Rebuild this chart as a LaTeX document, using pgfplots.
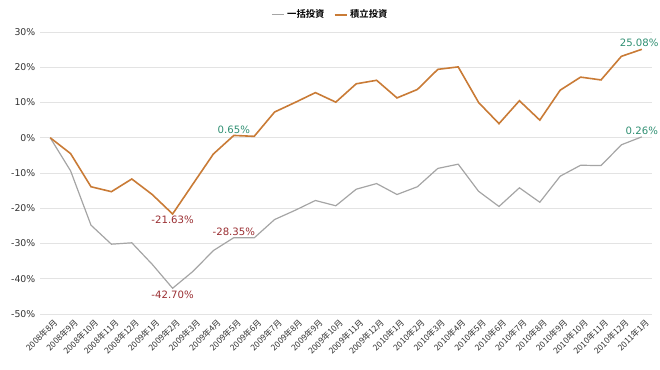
\documentclass[border=0pt]{standalone}
\usepackage{fontspec}
\setmainfont{DejaVu Sans}
\newfontfamily\jp{Noto Sans CJK JP}
\newfontfamily\jpb{Noto Sans CJK JP Bold}
\usepackage{pgfplots}
\pgfplotsset{compat=1.18}
\definecolor{grayline}{HTML}{A5A5A5}
\definecolor{orangeline}{HTML}{C97B36}
\definecolor{neglab}{HTML}{9A2E32}
\definecolor{poslab}{HTML}{2F8F72}
\definecolor{gridc}{HTML}{E3E3E3}
\begin{document}
\begin{tikzpicture}[x=1pt,y=1pt]
\path[use as bounding box] (-30pt,-42pt) rectangle (465pt,235.5pt);
\begin{axis}[
  at={(0,0)}, anchor=south west,
  scale only axis, width=459pt, height=211.5pt,
  xmin=-0.5, xmax=29.5, ymin=-50, ymax=30,
  ytick={-50,-40,...,30},
  xtick={0,...,29},
  xticklabels={2008年8月,2008年9月,2008年10月,2008年11月,2008年12月,2009年1月,2009年2月,2009年3月,2009年4月,2009年5月,2009年6月,2009年7月,2009年8月,2009年9月,2009年10月,2009年11月,2009年12月,2010年1月,2010年2月,2010年3月,2010年4月,2010年5月,2010年6月,2010年7月,2010年8月,2010年9月,2010年10月,2010年11月,2010年12月,2011年1月},
  x tick label style={font=\jp\fontsize{6.3}{7}\selectfont, rotate=45, anchor=north east, inner sep=0.5pt, yshift=-3pt, text=black!80},
  y tick label style={font=\fontsize{7}{8}\selectfont, text=black!80},
  /pgf/number format/assume math mode=true,
  yticklabel={\pgfmathprintnumber{\tick}\%},
  axis line style={draw=none},
  major tick length=0pt,
  ymajorgrids, grid style={gridc, line width=0.6pt},
  legend style={at={(0.475,1)}, anchor=south, yshift=6pt, draw=none, font=\jpb\fontsize{7}{8}\selectfont, legend columns=2, inner sep=1pt,
    /tikz/every even column/.append style={column sep=5pt}},
  legend image code/.code={\draw[#1] (0pt,0pt) -- (9pt,0pt);},
  clip=false,
]
\addplot[color=grayline, line width=0.9pt] coordinates {
(0,0) (1,-9.4) (2,-24.8) (3,-30.2) (4,-29.8) (5,-35.9) (6,-42.70) (7,-37.9) (8,-32.0) (9,-28.35)
(10,-28.4) (11,-23.2) (12,-20.6) (13,-17.8) (14,-19.3) (15,-14.6) (16,-13.0) (17,-16.1) (18,-13.9) (19,-8.7)
(20,-7.5) (21,-15.2) (22,-19.5) (23,-14.2) (24,-18.3) (25,-10.9) (26,-7.8) (27,-7.9) (28,-2.0) (29,0.26)};
\addlegendentry{一括投資}
\addplot[color=orangeline, line width=1.2pt] coordinates {
(0,0) (1,-4.5) (2,-13.9) (3,-15.3) (4,-11.7) (5,-16.1) (6,-21.63) (7,-13.1) (8,-4.6) (9,0.65)
(10,0.4) (11,7.3) (12,10.0) (13,12.8) (14,10.1) (15,15.3) (16,16.3) (17,11.3) (18,13.7) (19,19.4)
(20,20.1) (21,10.0) (22,4.0) (23,10.5) (24,5.0) (25,13.5) (26,17.2) (27,16.4) (28,23.1) (29,25.08)};
\addlegendentry{積立投資}
\begin{scope}[every node/.style={font=\fontsize{7.6}{8}\selectfont, inner sep=1.5pt}]
\node[neglab, below] at (axis cs:6,-21.63) {-21.63\%};
\node[neglab, below] at (axis cs:6,-42.70) {-42.70\%};
\node[neglab, above] at (axis cs:9,-28.35) {-28.35\%};
\node[poslab, above] at (axis cs:9,0.65) {0.65\%};
\node[poslab, above, xshift=-2pt] at (axis cs:29,25.08) {25.08\%};
\node[poslab, above] at (axis cs:29,0.26) {0.26\%};
\end{scope}
\end{axis}
\end{tikzpicture}
\end{document}
